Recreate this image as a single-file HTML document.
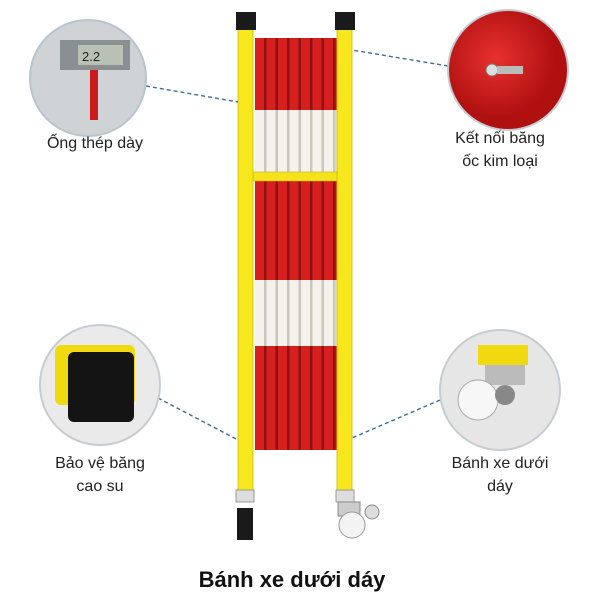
<!DOCTYPE html>
<html><head><meta charset="utf-8"><style>
body{margin:0;width:600px;height:600px;background:#fff;overflow:hidden;font-family:"Liberation Sans",sans-serif}
svg{position:absolute;left:0;top:0}
</style></head><body>
<svg width="600" height="600" viewBox="0 0 600 600">
<defs>
<pattern id="slr" x="255" y="0" width="11.5" height="600" patternUnits="userSpaceOnUse">
<rect width="11.5" height="600" fill="#d81f1f"/><rect x="9" width="2.5" height="600" fill="#8e1212"/>
</pattern>
<pattern id="slw" x="255" y="0" width="11.5" height="600" patternUnits="userSpaceOnUse">
<rect width="11.5" height="600" fill="#f4f2ea"/><rect x="9" width="2.5" height="600" fill="#c9c6bc"/>
</pattern>
<radialGradient id="rg" cx="40%" cy="40%"><stop offset="0" stop-color="#e83030"/><stop offset="1" stop-color="#b01010"/></radialGradient>
</defs>
<!-- slats -->
<rect x="255" y="38" width="83" height="72" fill="url(#slr)"/>
<rect x="255" y="110" width="83" height="62" fill="url(#slw)"/>
<rect x="255" y="180" width="83" height="100" fill="url(#slr)"/>
<rect x="255" y="280" width="83" height="66" fill="url(#slw)"/>
<rect x="255" y="346" width="83" height="104" fill="url(#slr)"/>
<!-- crossbar -->
<rect x="250" y="172" width="90" height="9" fill="#f5e21c" stroke="#c8b200" stroke-width="0.6"/>
<!-- posts -->
<rect x="238" y="28" width="15" height="462" fill="#f7e81e" stroke="#cdbb00" stroke-width="0.8"/>
<rect x="337" y="28" width="15" height="462" fill="#f7e81e" stroke="#cdbb00" stroke-width="0.8"/>
<rect x="236" y="12" width="20" height="18" fill="#1a1a1a"/>
<rect x="335" y="12" width="20" height="18" fill="#1a1a1a"/>
<rect x="236" y="490" width="18" height="12" fill="#ddd" stroke="#999"/>
<rect x="237" y="508" width="16" height="32" fill="#1a1a1a"/>
<rect x="336" y="490" width="18" height="12" fill="#ddd" stroke="#999"/>
<rect x="338" y="502" width="22" height="14" fill="#ccc" stroke="#888"/>
<circle cx="352" cy="525" r="13" fill="#f3f3f3" stroke="#999"/>
<circle cx="372" cy="512" r="7" fill="#ddd" stroke="#888"/>
<!-- dashed -->
<g stroke="#3a6f99" stroke-width="1.4" stroke-dasharray="4,3" fill="none">
<line x1="146" y1="86" x2="238" y2="102"/>
<line x1="448" y1="66" x2="352" y2="50"/>
<line x1="158" y1="398" x2="238" y2="440"/>
<line x1="440" y1="400" x2="352" y2="438"/>
</g>
<!-- circles -->
<circle cx="88" cy="78" r="58" fill="#cfd3d6" stroke="#b8c4cc" stroke-width="2"/>
<rect x="60" y="40" width="70" height="30" fill="#8a8f92"/>
<rect x="78" y="45" width="45" height="20" fill="#b9c1b5"/>
<text x="82" y="61" font-size="13" fill="#222">2.2</text>
<rect x="90" y="70" width="8" height="50" fill="#cc1b1b"/>
<circle cx="508" cy="70" r="60" fill="url(#rg)" stroke="#c5ccd2" stroke-width="2"/>
<circle cx="492" cy="70" r="6" fill="#ddd" stroke="#777"/>
<rect x="497" y="66" width="26" height="8" fill="#bbb"/>
<circle cx="100" cy="385" r="60" fill="#eaeaea" stroke="#c5ccd2" stroke-width="2"/>
<rect x="55" y="345" width="80" height="60" rx="6" fill="#f1d90f"/>
<rect x="68" y="352" width="66" height="70" rx="6" fill="#141414"/>
<circle cx="500" cy="390" r="60" fill="#e6e6e6" stroke="#c5ccd2" stroke-width="2"/>
<rect x="478" y="345" width="50" height="20" fill="#f1d90f"/>
<rect x="485" y="365" width="40" height="20" fill="#bbb"/>
<circle cx="478" cy="400" r="20" fill="#f7f7f7" stroke="#aaa"/>
<circle cx="505" cy="395" r="10" fill="#888"/>
<!-- labels -->
<g font-size="16" fill="#222" text-anchor="middle">
<text x="95" y="148">Ống thép dày</text>
<text x="500" y="143">Kết nối băng</text>
<text x="500" y="166">ốc kim loại</text>
<text x="100" y="468">Bảo vệ băng</text>
<text x="100" y="491">cao su</text>
<text x="500" y="468">Bánh xe dưới</text>
<text x="500" y="491">dáy</text>
</g>
<text x="292" y="587" font-size="22" font-weight="bold" fill="#111" text-anchor="middle">Bánh xe dưới dáy</text>
</svg>
</body></html>
